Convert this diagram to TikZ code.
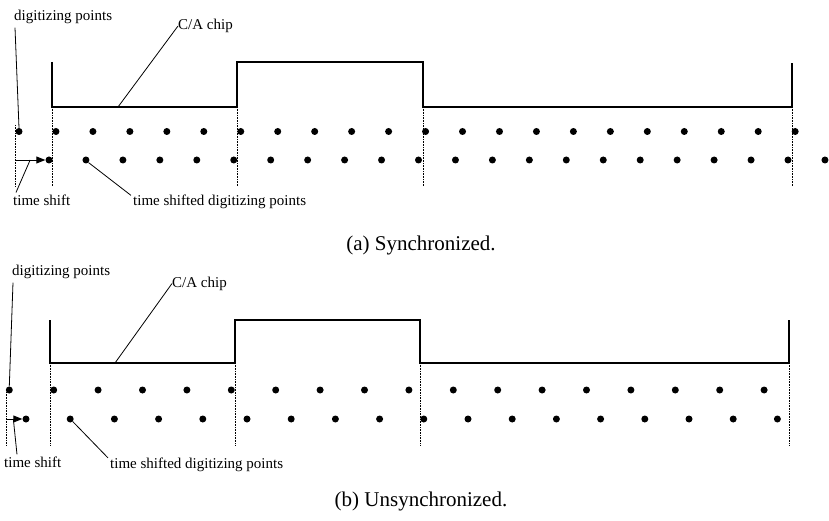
\documentclass[tikz,border=0pt]{standalone}
\usepackage{fontspec}
\setmainfont{Liberation Serif}
\usetikzlibrary{calc,arrows.meta}

\tikzset{
  smp/.style={circle,fill,inner sep=0pt,minimum size=7pt},
  lbl/.style={inner sep=0pt,font=\fontsize{15}{17}\selectfont},
  capt/.style={inner sep=0pt,font=\fontsize{21}{25}\selectfont},
  grid/.style={densely dotted,line width=0.6pt},
  chip/.style={line width=1.5pt},
  lead/.style={line width=0.8pt},
  tshift/.style={line width=0.9pt,-{Triangle[length=9pt,width=7pt]}}
}

\begin{document}
\begin{tikzpicture}[x=1pt,y=-1pt]
\useasboundingbox (0,0) rectangle (829,521);
% (a) synchronized
\draw[chip] (52,62) -- (52,107) -- (237,107) -- (237,62) -- (423,62) -- (423,107) -- (792,107) -- (792,63);
\foreach \x in {52,237,423,792} \draw[grid] (\x,107) -- (\x,186);
\draw[grid] (15,125) -- (15,186);
\foreach \i in {0,...,21} {
  \node[smp] (A\i) at (19+36.96*\i,131.5) {};
  \node[smp] (B\i) at (49+36.95*\i,160) {};
}
\coordinate (ZA) at (15,160);
\coordinate (CA) at (118,107);
\draw[tshift] (ZA) -- (B0.west);
\node[lbl,anchor=west] (DPA) at (14,16.5) {digitizing points};
\node[lbl,anchor=west] (CHA) at (178,26) {C/A chip};
\node[lbl,anchor=west] (TSA) at (13,200) {time shift};
\node[lbl,anchor=west] (TDA) at (133,201.5) {time shifted digitizing points};
\draw[lead] ($(DPA.south west)+(1,4)$) -- (A0.north);
\draw[lead] (CHA.west) -- (CA);
\draw[lead] ($(TSA.north west)+(3,-2)$) -- ($(ZA)!0.5!(B0.west)$);
\draw[lead] ($(TDA.north west)+(-2,1)$) -- (B1.south east);
\node[capt] (CPA) at (421,245) {(a) Synchronized.};
% (b) unsynchronized
\draw[chip] (50,320) -- (50,363) -- (235,363) -- (235,320) -- (420,320) -- (420,363) -- (789,363) -- (789,320);
\foreach \x in {50,235,420,789} \draw[grid] (\x,363) -- (\x,446);
\draw[grid] (6,392) -- (6,446);
\foreach \i in {0,...,17} {
  \node[smp] (C\i) at (9.3+44.4*\i,390) {};
  \node[smp] (D\i) at (26+44.2*\i,419) {};
}
\coordinate (ZB) at (6,419);
\coordinate (CB) at (115,363);
\draw[tshift] (ZB) -- (D0.west);
\node[lbl,anchor=west] (DPB) at (12,271.5) {digitizing points};
\node[lbl,anchor=west] (CHB) at (172,283.5) {C/A chip};
\node[lbl,anchor=west] (TSB) at (4,462) {time shift};
\node[lbl,anchor=west] (TDB) at (110,465) {time shifted digitizing points};
\draw[lead] ($(DPB.south west)+(1,4)$) -- (C0.north);
\draw[lead] (CHB.west) -- (CB);
\draw[lead] ($(TSB.north west)+(13,-2)$) -- ($(ZB)!0.45!(D0.west)$);
\draw[lead] ($(TDB.north west)+(-2,0)$) -- (D1.south east);
\node[capt] (CPB) at (421,501) {(b) Unsynchronized.};
\end{tikzpicture}
\end{document}
